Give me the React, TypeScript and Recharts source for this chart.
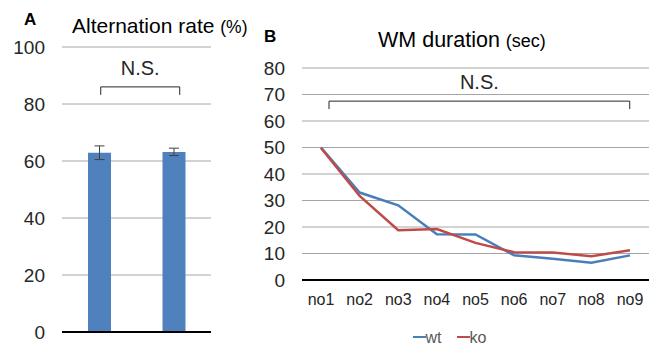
import { BarChart, Bar, LineChart, Line, XAxis, YAxis, CartesianGrid, ErrorBar, ReferenceLine, Legend } from 'recharts';

// panel A: alternation rate
const groups = ['wt', 'ko'];
const altRate = [62.9, 63.2];
const altErr = [2.4, 1.3];
const altTicks = [0, 20, 40, 60, 80, 100];

// panel B: WM duration
const trials = ['no1', 'no2', 'no3', 'no4', 'no5', 'no6', 'no7', 'no8', 'no9'];
const wt = [50, 33, 28.2, 17.3, 17.2, 9.3, 8, 6.5, 9.3];
const ko = [49.8, 31.7, 18.8, 19.2, 14, 10.5, 10.4, 9, 11.2];
const wmTicks = [0, 10, 20, 30, 40, 50, 60, 70, 80];
const seriesNames = ['wt', 'ko'];
const seriesColors = ['#4a7ebb', '#be4b48'];

// significance brackets: x in category units (0..n across the plot), y in data units
const bracketA = { x1: 0.52, x2: 1.58, y: 86, drop: 83.2 };
const bracketB = { x1: 0.7, x2: 8.5, y: 67.5, drop: 64.5 };

const barData = groups.map((g, i) => ({ name: g, pos: i + 0.5, rate: altRate[i], err: altErr[i] }));
const lineData = trials.map((t, i) => ({ name: t, pos: i + 0.5, wt: wt[i], ko: ko[i] }));

const FONT = '"Liberation Sans", Arial, sans-serif';
const tickStyle = { fill: '#262626', fontSize: 19, fontFamily: FONT };
const grid = '#a6a6a6';

const seg = (xId: string, b: typeof bracketA) => [
  <ReferenceLine key="h" xAxisId={xId} ifOverflow="visible" segment={[{ x: b.x1, y: b.y }, { x: b.x2, y: b.y }]} stroke="#262626" strokeWidth={1}
    label={{ value: 'N.S.', position: 'top', offset: 12, fill: '#262626', fontSize: 20, fontFamily: FONT }} />,
  <ReferenceLine key="l" xAxisId={xId} ifOverflow="visible" segment={[{ x: b.x1, y: b.y }, { x: b.x1, y: b.drop }]} stroke="#262626" strokeWidth={1} />,
  <ReferenceLine key="r" xAxisId={xId} ifOverflow="visible" segment={[{ x: b.x2, y: b.y }, { x: b.x2, y: b.drop }]} stroke="#262626" strokeWidth={1} />,
];

function WmLegend() {
  return (
    <div style={{ height: 37, paddingTop: 17, boxSizing: 'border-box', display: 'flex', justifyContent: 'center', gap: 15, fontSize: 16, lineHeight: '17px', color: '#595959', fontFamily: FONT }}>
      {seriesNames.map((n, i) => (
        <span key={n} style={{ display: 'flex', alignItems: 'center' }}>
          <span style={{ display: 'inline-block', width: 13, height: 2.5, background: seriesColors[i] }} />
          {n}
        </span>
      ))}
    </div>
  );
}

export default function App() {
  return (
    <div style={{ position: 'absolute', left: 0, top: 0, width: 652, height: 347, overflow: 'hidden', background: '#fff', fontFamily: FONT }}>
      <svg width={652} height={60} style={{ position: 'absolute', left: 0, top: 0 }}>
        <text x={24} y={25} fontSize={17} fontWeight="bold" fill="#000" fontFamily={FONT}>A</text>
        <text x={72} y={33} fontSize={21} fill="#000" fontFamily={FONT}>
          Alternation rate <tspan fontSize={17.5}>(%)</tspan>
        </text>
        <text x={264} y={42} fontSize={17} fontWeight="bold" fill="#000" fontFamily={FONT}>B</text>
        <text x={378} y={47} fontSize={21.5} fill="#000" fontFamily={FONT}>
          WM duration <tspan fontSize={18}>(sec)</tspan>
        </text>
      </svg>

      <div style={{ position: 'absolute', left: 0, top: 0 }}>
        <BarChart width={260} height={347} data={barData} margin={{ top: 47, right: 49, bottom: 14, left: 0 }}>
          <CartesianGrid vertical={false} stroke={grid} />
          <XAxis dataKey="name" tick={false} tickLine={false} height={1} axisLine={{ stroke: '#000', strokeWidth: 2 }} />
          <XAxis xAxisId="ann" dataKey="pos" type="number" domain={[0, groups.length]} allowDataOverflow hide />
          <YAxis domain={[0, 100]} ticks={altTicks} width={62} axisLine={false} tickLine={false} tickSize={0} tickMargin={17} tick={tickStyle} interval={0} />
          <Bar dataKey="rate" fill="#4f81bd" barSize={23} isAnimationActive={false}>
            <ErrorBar dataKey="err" width={5} stroke="#404040" strokeWidth={1} />
          </Bar>
          {seg('ann', bracketA)}
        </BarChart>
      </div>

      <div style={{ position: 'absolute', left: 250, top: 0 }}>
        <LineChart width={402} height={347} data={lineData} margin={{ top: 68, right: 3, bottom: 0, left: 0 }}>
          <CartesianGrid vertical={false} stroke={grid} />
          <XAxis dataKey="name" tickLine={false} axisLine={{ stroke: '#000', strokeWidth: 2 }} height={30} tickMargin={8}
            padding={{ left: 19, right: 19 }} tick={{ fill: '#262626', fontSize: 16, fontFamily: FONT }} interval={0} />
          <XAxis xAxisId="ann" dataKey="pos" type="number" domain={[0, trials.length]} allowDataOverflow hide />
          <YAxis domain={[0, 80]} ticks={wmTicks} width={52} axisLine={false} tickLine={false} tickSize={0} tickMargin={17} tick={tickStyle} interval={0} />
          <Legend content={WmLegend} verticalAlign="bottom" />
          <Line dataKey="wt" stroke={seriesColors[0]} strokeWidth={2.5} dot={false} isAnimationActive={false} />
          <Line dataKey="ko" stroke={seriesColors[1]} strokeWidth={2.5} dot={false} isAnimationActive={false} />
          {seg('ann', bracketB)}
        </LineChart>
      </div>
    </div>
  );
}
